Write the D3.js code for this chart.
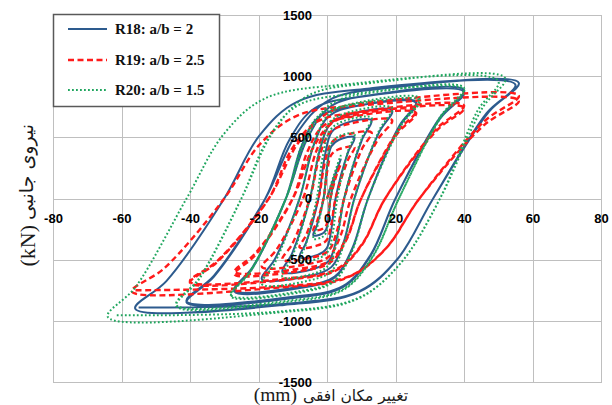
<!DOCTYPE html>
<html><head><meta charset="utf-8">
<script src="https://cdn.jsdelivr.net/npm/d3@7"></script>
<style>body{margin:0;background:#fff} svg{display:block}</style>
</head><body>
<svg id="c" width="612" height="405"></svg>
<script>
const xTicks = [-80,-60,-40,-20,0,20,40,60,80];
const yTicks = [-1500,-1000,-500,0,500,1000,1500];
const seriesNames = ["R18: a/b = 2","R19: a/b = 2.5","R20: a/b = 1.5"];
const xTitle = "تغییر مکان افقی";
const xUnit = "(mm)";
const yTitle = "نیروی جانبی";
const yUnit = "(kN)";

// R18 (a/b = 2): displacement (mm), force (kN)
const r18 = [
[0,0],[2,170],[4,320],
[3,240],[1,0],[0.4,-165],[-0.3,-255],[-1.5,-290],[-4,-300],
[-3,-225],[-1,0],[0.1,275],[1.25,425],[3.5,480],[8,500],
[6.1,375],[2.5,0],[1.2,-264],[-0.1,-408],[-2.75,-461],[-8,-480],
[-6.1,-360],[-2.5,0],[-0.6,352],[1.4,544],[5.25,614],[13,640],
[10.2,480],[5,0],[2.8,-330],[0.5,-510],[-4,-576],[-13,-600],
[-10.2,-450],[-5,0],[-2.1,396],[1,612],[7,691],[19,720],
[15.2,540],[8,0],[4.8,-363],[1.25,-561],[-5.5,-634],[-19,-660],
[-15.2,-495],[-8,0],[-3.9,435],[0.5,672],[9,758],[26,790],
[21.1,593],[12,0],[7.3,-418],[2.25,-646],[-7.5,-730],[-27,-760],
[-21.75,-570],[-12,0],[-7.4,429],[-2.5,663],[7,749],[26,780],
[21.1,585],[12,0],[7.3,-413],[2.25,-638],[-7.5,-720],[-27,-750],
[-21.75,-563],[-12,0],[-5.8,487],[1,752],[14,850],[40,885],
[33,664],[20,0],[12.7,-468],[4.75,-723],[-10.5,-816],[-41,-850],
[-33,-638],[-18,0],[-11,479],[-3.5,740],[11,835],[40,870],
[33,653],[20,0],[12.7,-462],[4.75,-714],[-10.5,-806],[-41,-840],
[-33,-630],[-18,0],[-9.1,520],[0.5,803],[19,907],[56,945],
[47.25,709],[31,0],[20.6,-495],[9.25,-765],[-12.5,-870],[-56,-900],
[-46.9,-675],[-30,0],[-19.8,512],[-8.75,790],[12.5,900],[55,930],
[46.6,698],[31,0],[20.7,-490],[9.5,-757],[-12,-860],[-55,-890]
];

// R19 (a/b = 2.5)
const r19 = [
[0,0],[2,150],[4,280],
[3,210],[1,0],[0.4,-143],[-0.25,-221],[-1.5,-250],[-4,-260],
[-3,-195],[-1,0],[0.1,231],[1.25,357],[3.5,403],[8,420],
[6.1,315],[2.5,0],[1.2,-220],[-0.1,-340],[-2.75,-384],[-8,-400],
[-6.1,-300],[-2.5,0],[-0.6,297],[1.4,459],[5.25,518],[13,540],
[10.2,405],[5,0],[2.8,-275],[0.5,-425],[-4,-480],[-13,-500],
[-10.2,-375],[-5,0],[-2.1,352],[1,544],[7,614],[19,640],
[14.8,480],[7,0],[3.9,-308],[0.5,-476],[-6,-538],[-19,-560],
[-14.8,-420],[-7,0],[-3,396],[1.25,612],[9.5,691],[26,720],
[20.4,540],[10,0],[5.6,-341],[0.75,-527],[-8.5,-595],[-27,-620],
[-21,-465],[-10,0],[-5.7,385],[-1,595],[8,672],[26,700],
[20.4,525],[10,0],[5.6,-330],[0.75,-510],[-8.5,-576],[-27,-600],
[-21,-450],[-10,0],[-4,418],[2.5,646],[15,730],[40,760],
[32,570],[17,0],[10.2,-380],[2.75,-587],[-11.5,-662],[-40,-690],
[-32,-518],[-17,0],[-10.2,407],[-2.75,629],[11.5,710],[40,740],
[32,555],[17,0],[10.2,-374],[2.75,-578],[-11.5,-653],[-40,-680],
[-32,-510],[-17,0],[-8.2,462],[1.25,714],[19.5,806],[56,840],
[45.85,630],[27,0],[16.9,-418],[6,-646],[-15,-730],[-57,-760],
[-47.5,-570],[-30,0],[-19.7,440],[-8.5,680],[13,768],[56,800],
[45.85,600],[27,0],[17,-413],[6.25,-638],[-14.5,-720],[-56,-750]
];

// R20 (a/b = 1.5)
const r20 = [
[0,0],[2,190],[4,350],
[3,263],[1,0],[0.4,-182],[-0.25,-280],[-1.5,-317],[-4,-330],
[-3,-248],[-1,0],[0.1,292],[1.25,450],[3.5,509],[8,530],
[6.25,398],[3,0],[1.7,-280],[0.25,-434],[-2.5,-490],[-8,-510],
[-6.25,-383],[-3,0],[-1.1,363],[1,561],[5,634],[13,660],
[10.2,495],[5,0],[2.8,-352],[0.5,-544],[-4,-614],[-13,-640],
[-10.2,-480],[-5,0],[-2.1,407],[1,629],[7,710],[19,740],
[15.2,555],[8,0],[4.8,-385],[1.25,-595],[-5.5,-672],[-19,-700],
[-15.2,-525],[-8,0],[-3.8,451],[0.75,697],[9.5,787],[27,820],
[21.75,615],[12,0],[7.2,-440],[2,-680],[-8,-768],[-28,-800],
[-22.4,-600],[-12,0],[-7.3,440],[-2.25,680],[7.5,768],[27,800],
[21.75,600],[12,0],[7.2,-435],[2,-672],[-8,-758],[-28,-790],
[-22.4,-593],[-12,0],[-5.8,498],[1,769],[14,869],[40,905],
[33.35,679],[21,0],[13.2,-484],[4.75,-748],[-11.5,-845],[-44,-880],
[-37.35,-660],[-25,0],[-17.2,490],[-8.75,757],[7.5,854],[40,890],
[33.35,668],[21,0],[13.2,-479],[4.75,-740],[-11.5,-835],[-44,-870],
[-37.35,-653],[-25,0],[-15.8,542],[-5.75,837],[13.5,946],[52,985],
[45.35,739],[33,0],[21.4,-532],[8.75,-823],[-15.5,-935],[-64,-968],
[-55.95,-726],[-41,0],[-30.1,528],[-18.25,816],[4.5,930],[50,960],
[44,720],[33,0],[21.6,-525],[9.25,-812],[-14.5,-925],[-62,-955]
];

const svg = d3.select("#c");
const x = d3.scaleLinear().domain([-80,80]).range([53,601]);
const y = d3.scaleLinear().domain([-1500,1500]).range([382,15]);
const W = 548, H = 367;
const tickFont = "'Liberation Sans', Arial, sans-serif";
const fmt = d => String(d);

// gridlines
const gx = svg.append("g").attr("transform",`translate(0,${y(-1500)})`)
  .call(d3.axisBottom(x).tickValues(xTicks).tickSize(-H).tickFormat(""));
const gy = svg.append("g").attr("transform",`translate(${x(-80)},0)`)
  .call(d3.axisLeft(y).tickValues(yTicks).tickSize(-W).tickFormat(""));
[gx,gy].forEach(g=>{
  g.select(".domain").remove();
  g.selectAll("line").attr("stroke","#BFBFBF").attr("stroke-width",1).attr("shape-rendering","crispEdges");
});
svg.append("rect").attr("x",x(-80)).attr("y",y(1500)).attr("width",W).attr("height",H)
  .attr("fill","none").attr("stroke","#BFBFBF").attr("shape-rendering","crispEdges");

// series
const line = d3.line().x(d=>x(d[0])).y(d=>y(d[1])).curve(d3.curveCatmullRom.alpha(0.5));
const styles = [
  {data:r18, color:"#2D5B8E", width:2, dash:null},
  {data:r19, color:"#FF1A1A", width:2.4, dash:"6,3.5"},
  {data:r20, color:"#1FA65E", width:2, dash:"1.8,2.2"}
];
styles.forEach(s=>{
  svg.append("path").datum(s.data).attr("d",line)
    .attr("fill","none").attr("stroke",s.color).attr("stroke-width",s.width)
    .attr("stroke-dasharray",s.dash).attr("stroke-linejoin","round");
});

// tick labels (axes cross at 0)
const ax = svg.append("g").attr("transform",`translate(0,${y(0)})`)
  .call(d3.axisBottom(x).tickValues(xTicks).tickSize(0).tickPadding(15).tickFormat(fmt));
const ay = svg.append("g").attr("transform",`translate(${x(0)},0)`)
  .call(d3.axisLeft(y).tickValues(yTicks).tickSize(0).tickPadding(15).tickFormat(fmt));
[ax,ay].forEach(g=>{
  g.select(".domain").remove();
  g.selectAll("text").attr("font-family",tickFont).attr("font-weight","bold")
    .attr("font-size",13).attr("fill","#000");
});

// legend
const lg = svg.append("g");
lg.append("rect").attr("x",53.5).attr("y",14.5).attr("width",166).attr("height",92)
  .attr("fill","#fff").attr("stroke","#595959").attr("stroke-width",1.5);
const ly = [29,60,90];
seriesNames.forEach((n,i)=>{
  lg.append("line").attr("x1",68).attr("x2",107).attr("y1",ly[i]).attr("y2",ly[i])
    .attr("stroke",styles[i].color).attr("stroke-width",styles[i].width)
    .attr("stroke-dasharray",styles[i].dash);
  lg.append("text").attr("x",115).attr("y",ly[i]).attr("dy","0.35em")
    .attr("font-family","'Liberation Serif','Times New Roman',serif").attr("font-weight","bold")
    .attr("font-size",15).attr("fill","#111").text(n);
});

// axis titles
svg.append("text").attr("x",303).attr("y",401).attr("text-anchor","start")
  .attr("font-family","'DejaVu Sans',sans-serif").attr("font-size",15.5).attr("fill","#1a1a1a").text(xTitle);
svg.append("text").attr("x",297).attr("y",400.5).attr("text-anchor","end")
  .attr("font-family","'Liberation Serif','Times New Roman',serif").attr("font-size",19.5).attr("fill","#1a1a1a").text(xUnit);
svg.append("text").attr("transform","translate(33,220) rotate(-90)").attr("text-anchor","start")
  .attr("font-family","'DejaVu Sans',sans-serif").attr("font-size",19).attr("fill","#1a1a1a").text(yTitle);
svg.append("text").attr("transform","translate(35,225) rotate(-90)").attr("text-anchor","end")
  .attr("font-family","'Liberation Serif','Times New Roman',serif").attr("font-size",22).attr("fill","#1a1a1a").text(yUnit);
</script>
</body></html>
